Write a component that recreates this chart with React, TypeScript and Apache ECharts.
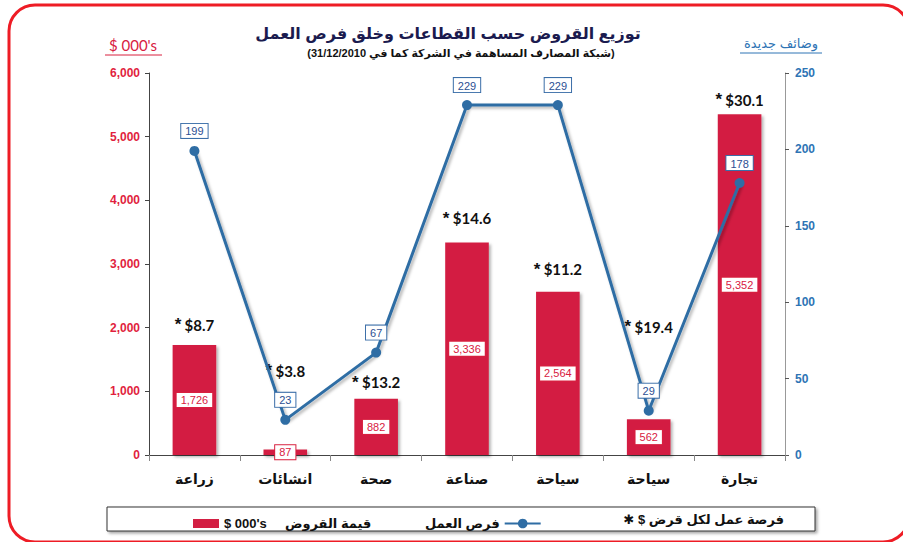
import React, { useEffect, useRef } from "react";
import * as echarts from "echarts";

const categories = ["زراعة", "انشائات", "صحة", "صناعة", "سياحة", "سياحة", "تجارة"];
const loanValues = [1726, 87, 882, 3336, 2564, 562, 5352];
const jobValues = [199, 23, 67, 229, 229, 29, 178];
const jobsPerLoan = ["$8.7", "$3.8", "$13.2", "$14.6", "$11.2", "$19.4", "$30.1"];
const leftTicks = { min: 0, max: 6000, interval: 1000 };
const rightTicks = { min: 0, max: 250, interval: 50 };

const titleText = "توزيع القروض حسب القطاعات وخلق فرص العمل";
const subtitleText = "(شبكة المصارف المساهمة في الشركة كما في 31/12/2010)";
const leftAxisName = "$ 000's";
const rightAxisName = "وضائف جديدة";
const barName = "$ 000's     قيمة القروض";
const lineName = "فرص العمل";
const starLegend = "✱ $ فرصة عمل لكل قرض";

const RED = "#d31f43";
const BLUE = "#2f6da4";
const AR = "'Liberation Sans', 'DejaVu Sans', Arial, sans-serif";
const CAL = "Lato, 'Liberation Sans', sans-serif";

// vertical gap (px) between bar top and the star label, per bar
const starGap = [12, 70, 8, 16, 14, 84, 6];

export default function App() {
  const ref = useRef<HTMLDivElement>(null);
  useEffect(() => {
    if (!ref.current) return;
    const chart = echarts.init(ref.current, null, { renderer: "svg" });
    const option: any = {
      animation: false,
      backgroundColor: "#ffffff",
      grid: { left: 149, right: 118, top: 73, bottom: 87 },
      xAxis: [
        {
          type: "category",
          data: categories,
          axisLine: { lineStyle: { color: "#999", width: 1 } },
          axisTick: { show: true, length: 6, lineStyle: { color: "#888" } },
          axisLabel: {
            margin: 17,
            color: "#111",
            fontSize: 14,
            fontWeight: "bold",
            fontFamily: AR,
          },
        },
        {
          type: "category",
          position: "top",
          data: categories,
          axisLine: { lineStyle: { color: "#444", width: 1 } },
          axisTick: { show: false },
          axisLabel: { show: false },
        },
      ],
      yAxis: [
        {
          type: "value",
          ...leftTicks,
          splitLine: { show: false },
          axisLine: { show: true, lineStyle: { color: "#444" } },
          axisTick: { show: true, length: 4, lineStyle: { color: "#444" } },
          axisLabel: {
            color: "#e11f3e",
            fontSize: 12,
            fontWeight: "bold",
            fontFamily: AR,
            margin: 9,
            formatter: (v: number) => v.toLocaleString("en-US"),
          },
        },
        {
          type: "value",
          ...rightTicks,
          splitLine: { show: false },
          axisLine: { show: true, lineStyle: { color: "#999" } },
          axisTick: { show: true, length: 4, lineStyle: { color: "#555" } },
          axisLabel: {
            color: "#2e74b5",
            fontSize: 12,
            fontWeight: "bold",
            fontFamily: AR,
            margin: 10,
          },
        },
      ],
      legend: [
        {
          data: [{ name: barName, icon: "rect" }],
          left: 188,
          top: 512,
          itemWidth: 26,
          itemHeight: 9,
          itemGap: 8,
          textStyle: { color: "#111", fontSize: 13, fontWeight: "bold", fontFamily: AR },
          selectedMode: false,
        },
        {
          data: [{ name: lineName }],
          left: 420,
          top: 512,
          align: "right",
          itemWidth: 36,
          itemHeight: 12,
          textStyle: { color: "#111", fontSize: 13, fontWeight: "bold", fontFamily: AR },
          selectedMode: false,
        },
      ],
      graphic: [
        {
          type: "rect",
          shape: { x: 9, y: 5, width: 900, height: 537, r: 26 },
          style: { fill: "none", stroke: "#ee1c25", lineWidth: 3 },
          z: 0,
          silent: true,
        },
        {
          type: "text",
          x: 448,
          y: 33,
          style: {
            text: titleText,
            fill: "#1b1b4f",
            font: `bold 16px ${AR}`,
            align: "center",
            verticalAlign: "middle",
          },
        },
        {
          type: "text",
          x: 461,
          y: 53,
          style: {
            text: subtitleText,
            fill: "#111",
            font: `bold 11px ${AR}`,
            align: "center",
            verticalAlign: "middle",
          },
        },
        {
          type: "text",
          x: 133,
          y: 45,
          style: {
            text: leftAxisName,
            fill: "#d8203f",
            font: `15px ${CAL}`,
            align: "center",
            verticalAlign: "middle",
          },
        },
        {
          type: "line",
          shape: { x1: 105, y1: 55, x2: 162, y2: 55 },
          style: { stroke: "#d8203f", lineWidth: 1 },
        },
        {
          type: "text",
          x: 781,
          y: 43,
          style: {
            text: rightAxisName,
            fill: "#2e74b5",
            font: `13px ${AR}`,
            align: "center",
            verticalAlign: "middle",
          },
        },
        {
          type: "line",
          shape: { x1: 740, y1: 53, x2: 822, y2: 53 },
          style: { stroke: "#2e74b5", lineWidth: 1 },
        },
        {
          type: "rect",
          shape: { x: 107, y: 507, width: 708, height: 24 },
          style: {
            fill: "#fff",
            stroke: "#333",
            lineWidth: 1,
            shadowBlur: 3,
            shadowOffsetX: 2,
            shadowOffsetY: 2,
            shadowColor: "rgba(0,0,0,0.35)",
          },
          z: 1,
          silent: true,
        },
        {
          type: "text",
          x: 784,
          y: 519,
          z: 5,
          style: {
            text: starLegend,
            fill: "#111",
            font: `bold 13px ${AR}`,
            align: "right",
            verticalAlign: "middle",
          },
        },
      ],
      series: [
        {
          name: barName,
          type: "bar",
          data: loanValues,
          barWidth: "48%",
          itemStyle: {
            color: RED,
            shadowBlur: 3,
            shadowOffsetX: 2,
            shadowOffsetY: 2,
            shadowColor: "rgba(0,0,0,0.3)",
          },
          label: {
            show: true,
            position: "inside",
            formatter: (p: any) => p.value.toLocaleString("en-US"),
            color: "#d8203f",
            fontSize: 11,
            fontFamily: AR,
            backgroundColor: "#fff",
            borderColor: "#d8203f",
            borderWidth: 1,
            padding: [2, 4, 1, 4],
          },
          z: 2,
        },
        {
          name: "ratio",
          type: "bar",
          data: loanValues.map((v, i) => ({ value: v, label: { distance: starGap[i] } })),
          barWidth: "48%",
          barGap: "-100%",
          itemStyle: { color: "transparent" },
          silent: true,
          label: {
            show: true,
            position: "top",
            formatter: (p: any) => `{s|*} {v|${jobsPerLoan[p.dataIndex]}}`,
            rich: {
              s: { fontSize: 17, fontWeight: "bold", color: "#111", fontFamily: AR },
              v: { fontSize: 15, fontWeight: "bold", color: "#111", fontFamily: CAL },
            },
          },
          z: 3,
        },
        {
          name: lineName,
          type: "line",
          yAxisIndex: 1,
          data: jobValues,
          symbol: "circle",
          symbolSize: 10,
          lineStyle: {
            color: BLUE,
            width: 3,
            shadowBlur: 3,
            shadowOffsetX: 2,
            shadowOffsetY: 2,
            shadowColor: "rgba(0,0,0,0.3)",
          },
          itemStyle: { color: BLUE },
          label: {
            show: true,
            position: "top",
            distance: 8,
            color: "#2c4f93",
            fontSize: 11,
            fontFamily: AR,
            backgroundColor: "#fff",
            borderColor: "#3b6ea8",
            borderWidth: 1,
            padding: [2, 4, 1, 4],
          },
          z: 4,
        },
      ],
    };
    chart.setOption(option);
    return () => chart.dispose();
  }, []);
  return (
    <div
      ref={ref}
      style={{ position: "fixed", left: 0, top: 0, width: 903, height: 542, background: "#fff" }}
    />
  );
}
